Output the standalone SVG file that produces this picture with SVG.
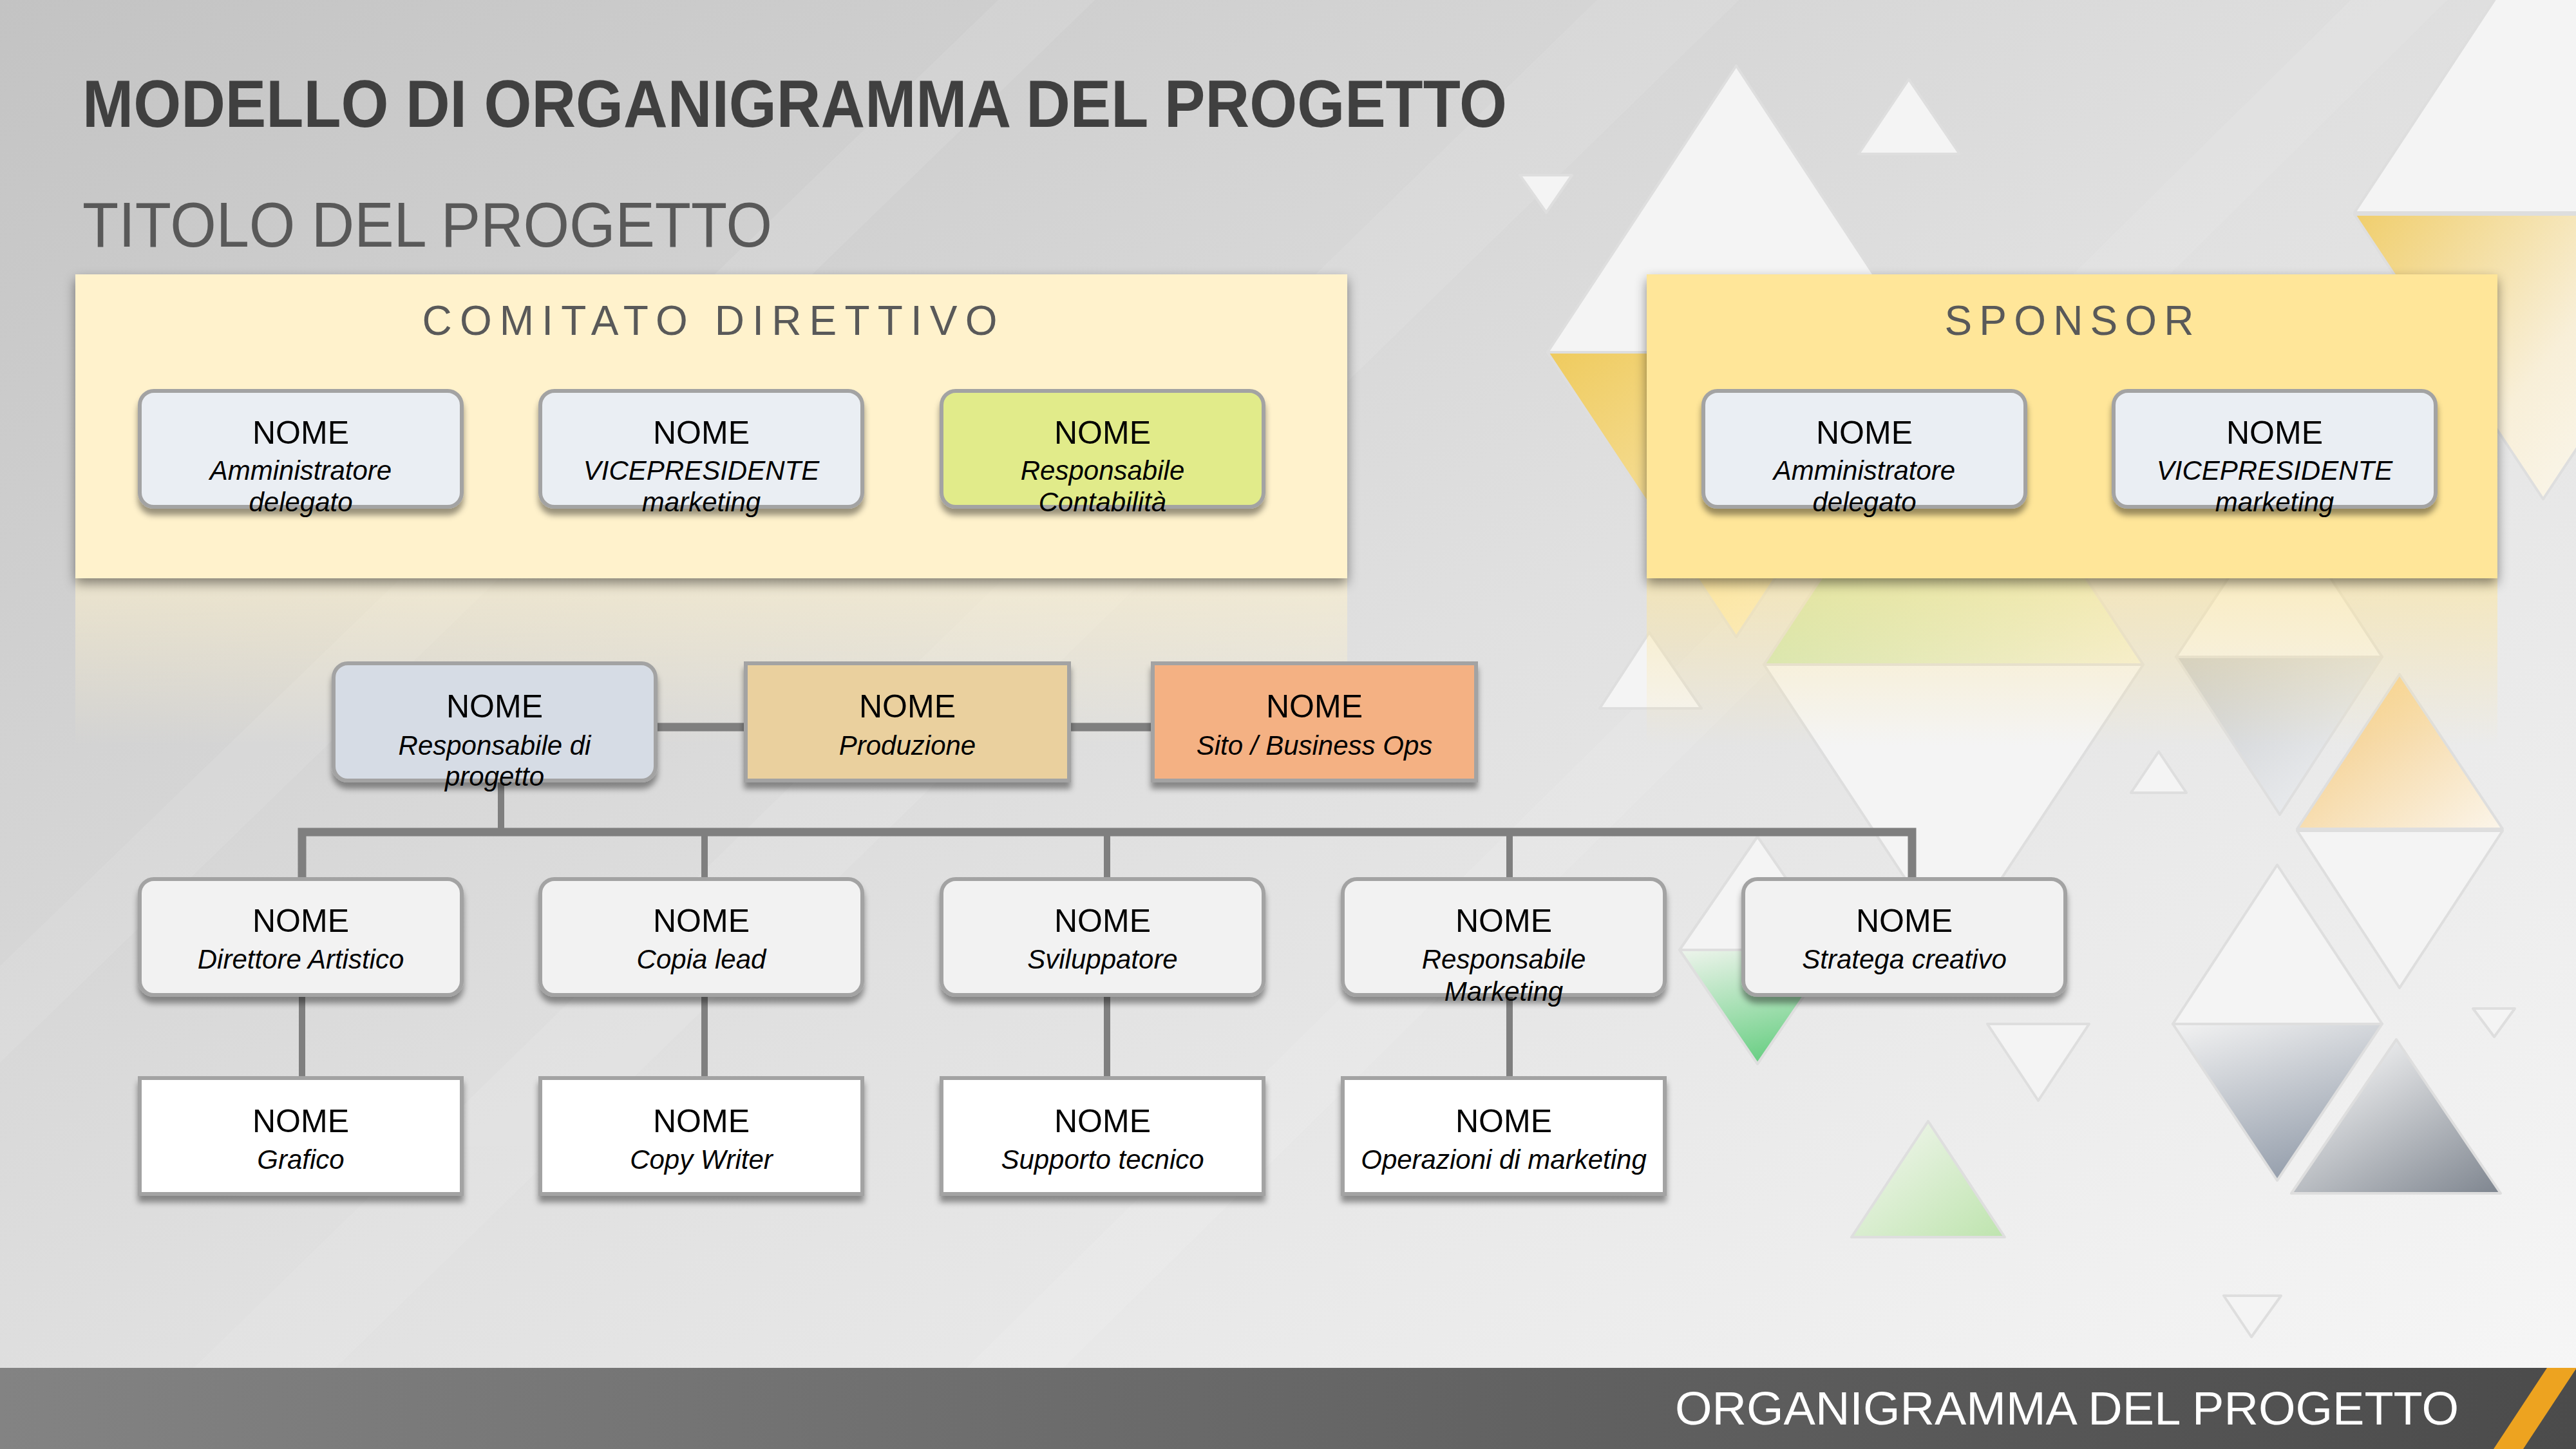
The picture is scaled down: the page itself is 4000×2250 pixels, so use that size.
<svg xmlns="http://www.w3.org/2000/svg" width="4000" height="2250" viewBox="0 0 4000 2250">
<defs>
<linearGradient id="bg" x1="0" y1="0" x2="1" y2="1"><stop offset="0" stop-color="#C3C3C3"/><stop offset="0.5" stop-color="#E0E0E0"/><stop offset="1" stop-color="#F7F7F7"/></linearGradient>
<linearGradient id="foot" x1="0" y1="0" x2="1" y2="0"><stop offset="0" stop-color="#838383"/><stop offset="1" stop-color="#4B4B4B"/></linearGradient>
<linearGradient id="yel" x1="0" y1="0" x2="1" y2="1"><stop offset="0" stop-color="#EFCB5E"/><stop offset="1" stop-color="#FDF6E2"/></linearGradient>
<linearGradient id="yel2" x1="0" y1="0" x2="1" y2="0.6"><stop offset="0" stop-color="#F0CE6C"/><stop offset="0.6" stop-color="#F8EFD8"/><stop offset="1" stop-color="#FAF8F2"/></linearGradient>
<linearGradient id="grn1" x1="0" y1="0" x2="1" y2="1"><stop offset="0" stop-color="#A8DC90"/><stop offset="1" stop-color="#F4F1DC"/></linearGradient>
<linearGradient id="grn2" x1="0" y1="0" x2="0.3" y2="1"><stop offset="0" stop-color="#EEF4EC"/><stop offset="1" stop-color="#6FD088"/></linearGradient>
<linearGradient id="grn3" x1="0" y1="0" x2="1" y2="1"><stop offset="0" stop-color="#F5F7F2"/><stop offset="1" stop-color="#BEE4AE"/></linearGradient>
<linearGradient id="org" x1="0" y1="0" x2="1" y2="1"><stop offset="0" stop-color="#F3C677"/><stop offset="1" stop-color="#FBF5EA"/></linearGradient>
<linearGradient id="gry1" x1="0" y1="0" x2="1" y2="1"><stop offset="0" stop-color="#C7C9CB"/><stop offset="1" stop-color="#F2F4F7"/></linearGradient>
<linearGradient id="gry2" x1="0" y1="0" x2="0.4" y2="1"><stop offset="0" stop-color="#F2F2F2"/><stop offset="1" stop-color="#99A2AF"/></linearGradient>
<linearGradient id="gry3" x1="0.2" y1="0" x2="1" y2="1"><stop offset="0" stop-color="#F8F8F8"/><stop offset="1" stop-color="#7E858F"/></linearGradient>
<linearGradient id="refC" x1="0" y1="0" x2="0" y2="1"><stop offset="0" stop-color="#FFF2CC" stop-opacity="0.6"/><stop offset="1" stop-color="#FFF2CC" stop-opacity="0"/></linearGradient>
<linearGradient id="refS" x1="0" y1="0" x2="0" y2="1"><stop offset="0" stop-color="#FFE699" stop-opacity="0.55"/><stop offset="1" stop-color="#FFE699" stop-opacity="0"/></linearGradient>
<filter id="sh" x="-10%" y="-10%" width="120%" height="140%"><feDropShadow dx="0" dy="10" stdDeviation="5" flood-color="#000" flood-opacity="0.4"/></filter>
<filter id="shg" x="-5%" y="-10%" width="110%" height="130%"><feDropShadow dx="0" dy="8" stdDeviation="9" flood-color="#000" flood-opacity="0.45"/></filter>
</defs>
<style>
.t{font-family:"Liberation Sans",Arial,sans-serif;}
.nm{font-family:"Liberation Sans",Arial,sans-serif;font-size:50px;fill:#000;text-anchor:middle;}
.rl{font-family:"Liberation Sans",Arial,sans-serif;font-size:42px;font-style:italic;fill:#000;text-anchor:middle;}
.tri{stroke:#DEDEDE;stroke-width:4;stroke-linejoin:round;}
.w{fill:#F4F4F4;}
.box{stroke:#A3A3A3;stroke-width:6;filter:url(#sh);}
.con{stroke:#7F7F7F;fill:none;}
.grp{font-family:"Liberation Sans",Arial,sans-serif;font-size:64px;fill:#595959;text-anchor:middle;}
</style>

<rect x="0" y="0" width="4000" height="2250" fill="url(#bg)"/>
<g id="streaks" fill="#FFFFFF" opacity="0.09">
<polygon points="0,1500 0,1650 1700,0 1550,0"/>
<polygon points="300,2125 520,2125 2700,0 2480,0"/>
<polygon points="1500,2125 1650,2125 3800,0 3650,0"/>
</g>

<g id="triangles">
<polygon class="tri w" points="2696,102 2403,547 2989,547"/>
<polygon class="tri" fill="url(#yel)" points="2403,547 2989,547 2696,989"/>
<polygon class="tri w" points="2964,123 2886,239 3043,239"/>
<polygon class="tri w" points="2360,272 2441,272 2401,330"/>
<polygon class="tri w" points="3949,-115 3656,330 4242,330"/>
<polygon class="tri" fill="url(#yel2)" points="3656,333 4242,333 3949,775"/>
<polygon class="tri" fill="url(#grn1)" points="3033,587 2739,1032 3328,1032"/>
<polygon class="tri w" points="2739,1032 3328,1032 3033,1477"/>
<polygon class="tri w" points="3540,777 3379,1020 3699,1020"/>
<polygon class="tri" fill="url(#gry1)" points="3379,1020 3699,1020 3540,1265"/>
<polygon class="tri w" points="3352,1167 3309,1231 3395,1231"/>
<polygon class="tri" fill="url(#org)" points="3726,1047 3567,1287 3886,1287"/>
<polygon class="tri w" points="3567,1290 3886,1290 3726,1534"/>
<polygon class="tri w" points="3536,1343 3374,1590 3699,1590"/>
<polygon class="tri" fill="url(#gry2)" points="3374,1590 3699,1590 3536,1833"/>
<polygon class="tri" fill="url(#gry3)" points="3721,1614 3558,1853 3883,1853"/>
<polygon class="tri w" points="3840,1566 3905,1566 3873,1610"/>
<polygon class="tri w" points="3086,1590 3244,1590 3165,1709"/>
<polygon class="tri" fill="url(#grn3)" points="2994,1741 2875,1921 3113,1921"/>
<polygon class="tri w" points="3453,2012 3542,2012 3496,2076"/>
<polygon class="tri w" points="2729,1299 2608,1475 2850,1475"/>
<polygon class="tri" fill="url(#grn2)" points="2608,1475 2850,1475 2729,1652"/>
<polygon class="tri w" points="2561,982 2484,1100 2642,1100"/>
</g>

<text class="t" x="128" y="197" font-size="104" font-weight="bold" fill="#404040" textLength="2212" lengthAdjust="spacingAndGlyphs">MODELLO DI ORGANIGRAMMA DEL PROGETTO</text>
<text class="t" x="128" y="383" font-size="98" fill="#595959" textLength="1071" lengthAdjust="spacingAndGlyphs">TITOLO DEL PROGETTO</text>

<rect x="117" y="898" width="1975" height="260" fill="url(#refC)"/>
<rect x="2557" y="898" width="1321" height="260" fill="url(#refS)"/>

<g id="comitato">
<rect x="117" y="426" width="1975" height="472" fill="#FFF2CC" filter="url(#shg)"/>
<text class="grp" x="1102" y="520" textLength="893" lengthAdjust="spacing">COMITATO DIRETTIVO</text>
</g>
<g id="sponsor">
<rect x="2557" y="426" width="1321" height="472" fill="#FFE699" filter="url(#shg)"/>
<text class="grp" x="3213" y="520" textLength="387" lengthAdjust="spacing">SPONSOR</text>
</g>

<g id="connectors">
<line class="con" stroke-width="13" x1="1015" y1="1129" x2="1161" y2="1129"/>
<line class="con" stroke-width="13" x1="1657" y1="1129" x2="1793" y2="1129"/>
<line class="con" stroke-width="10" x1="778" y1="1210" x2="778" y2="1292"/>
<polyline class="con" stroke-width="13" points="469,1368 469,1292 2969,1292 2969,1368"/>
<line class="con" stroke-width="10" x1="1094" y1="1292" x2="1094" y2="1368"/>
<line class="con" stroke-width="10" x1="1719" y1="1292" x2="1719" y2="1368"/>
<line class="con" stroke-width="10" x1="2344" y1="1292" x2="2344" y2="1368"/>
<line class="con" stroke-width="10" x1="469" y1="1545" x2="469" y2="1676"/>
<line class="con" stroke-width="10" x1="1094" y1="1545" x2="1094" y2="1676"/>
<line class="con" stroke-width="10" x1="1719" y1="1545" x2="1719" y2="1676"/>
<line class="con" stroke-width="10" x1="2344" y1="1545" x2="2344" y2="1676"/>
</g>

<g id="n-c1"><rect class="box" x="217" y="607" width="500" height="180" rx="22" fill="#EAEEF3"/><text class="nm" x="467" y="689">NOME</text><text class="rl" x="467" y="745">Amministratore</text><text class="rl" x="467" y="794">delegato</text></g>
<g id="n-c2"><rect class="box" x="839" y="607" width="500" height="180" rx="22" fill="#EAEEF3"/><text class="nm" x="1089" y="689">NOME</text><text class="rl" x="1089" y="745">VICEPRESIDENTE</text><text class="rl" x="1089" y="794">marketing</text></g>
<g id="n-c3"><rect class="box" x="1462" y="607" width="500" height="180" rx="22" fill="#E1EB8A"/><text class="nm" x="1712" y="689">NOME</text><text class="rl" x="1712" y="745">Responsabile</text><text class="rl" x="1712" y="794">Contabilità</text></g>
<g id="n-s1"><rect class="box" x="2645" y="607" width="500" height="180" rx="22" fill="#EAEEF3"/><text class="nm" x="2895" y="689">NOME</text><text class="rl" x="2895" y="745">Amministratore</text><text class="rl" x="2895" y="794">delegato</text></g>
<g id="n-s2"><rect class="box" x="3282" y="607" width="500" height="180" rx="22" fill="#EAEEF3"/><text class="nm" x="3532" y="689">NOME</text><text class="rl" x="3532" y="745">VICEPRESIDENTE</text><text class="rl" x="3532" y="794">marketing</text></g>

<g id="n-resp"><rect class="box" x="518" y="1030" width="500" height="182" rx="22" fill="#D6DCE5"/><text class="nm" x="768" y="1114">NOME</text><text class="rl" x="768" y="1172">Responsabile di</text><text class="rl" x="768" y="1220">progetto</text></g>
<g id="n-prod"><rect class="box" x="1158" y="1030" width="502" height="182" fill="#EAD09E"/><text class="nm" x="1409" y="1114">NOME</text><text class="rl" x="1409" y="1172">Produzione</text></g>
<g id="n-sito"><rect class="box" x="1790" y="1030" width="502" height="182" fill="#F4B183"/><text class="nm" x="2041" y="1114">NOME</text><text class="rl" x="2041" y="1172">Sito / Business Ops</text></g>

<g id="n-r1"><rect class="box" x="217" y="1365" width="500" height="180" rx="22" fill="#F2F2F2"/><text class="nm" x="467" y="1447">NOME</text><text class="rl" x="467" y="1504">Direttore Artistico</text></g>
<g id="n-r2"><rect class="box" x="839" y="1365" width="500" height="180" rx="22" fill="#F2F2F2"/><text class="nm" x="1089" y="1447">NOME</text><text class="rl" x="1089" y="1504">Copia lead</text></g>
<g id="n-r3"><rect class="box" x="1462" y="1365" width="500" height="180" rx="22" fill="#F2F2F2"/><text class="nm" x="1712" y="1447">NOME</text><text class="rl" x="1712" y="1504">Sviluppatore</text></g>
<g id="n-r4"><rect class="box" x="2085" y="1365" width="500" height="180" rx="22" fill="#F2F2F2"/><text class="nm" x="2335" y="1447">NOME</text><text class="rl" x="2335" y="1504">Responsabile</text><text class="rl" x="2335" y="1554">Marketing</text></g>
<g id="n-r5"><rect class="box" x="2707" y="1365" width="500" height="180" rx="22" fill="#F2F2F2"/><text class="nm" x="2957" y="1447">NOME</text><text class="rl" x="2957" y="1504">Stratega creativo</text></g>

<g id="n-b1"><rect class="box" x="217" y="1674" width="500" height="180" fill="#FFFFFF"/><text class="nm" x="467" y="1758">NOME</text><text class="rl" x="467" y="1815">Grafico</text></g>
<g id="n-b2"><rect class="box" x="839" y="1674" width="500" height="180" fill="#FFFFFF"/><text class="nm" x="1089" y="1758">NOME</text><text class="rl" x="1089" y="1815">Copy Writer</text></g>
<g id="n-b3"><rect class="box" x="1462" y="1674" width="500" height="180" fill="#FFFFFF"/><text class="nm" x="1712" y="1758">NOME</text><text class="rl" x="1712" y="1815">Supporto tecnico</text></g>
<g id="n-b4"><rect class="box" x="2085" y="1674" width="500" height="180" fill="#FFFFFF"/><text class="nm" x="2335" y="1758">NOME</text><text class="rl" x="2335" y="1815">Operazioni di marketing</text></g>

<g id="footer">
<rect x="0" y="2124" width="4000" height="126" fill="url(#foot)"/>
<polygon points="3955,2124 4001,2124 3918,2250 3872,2250" fill="#EDA320"/>
<text class="t" x="2601" y="2212" font-size="72" fill="#FFFFFF" textLength="1217" lengthAdjust="spacingAndGlyphs">ORGANIGRAMMA DEL PROGETTO</text>
</g>
</svg>
